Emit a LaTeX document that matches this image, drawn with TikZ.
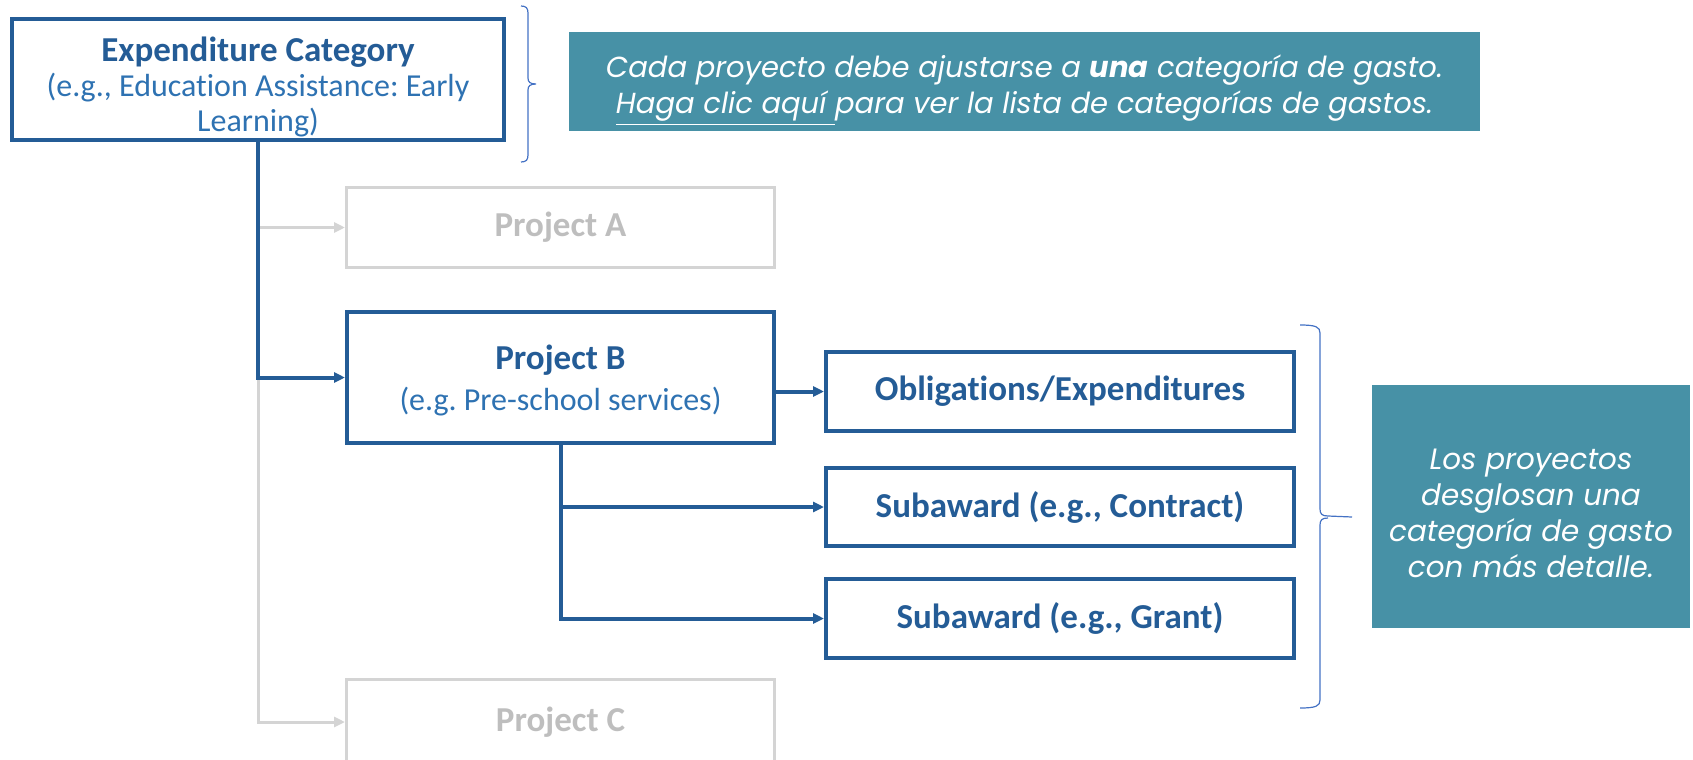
\documentclass[tikz,border=0pt]{standalone}
\usepackage{fontspec}
\setmainfont{Carlito}[Ligatures=NoCommon]
\newfontfamily\gothic{Poppins}
\usepackage{tikz}
\usetikzlibrary{positioning,arrows.meta}
\usepackage{xcolor}
\definecolor{boxblue}{RGB}{36,92,150}
\definecolor{subblue}{RGB}{46,114,178}
\definecolor{fadegray}{RGB}{212,212,212}
\definecolor{fadetext}{RGB}{190,190,190}
\definecolor{tealbox}{RGB}{71,145,166}
\definecolor{bracecol}{RGB}{68,114,196}
\frenchspacing

\begin{document}
\begin{tikzpicture}[x=0.5pt,y=0.5pt,yscale=-1,xscale=1,
  blockbox/.style={draw=boxblue,line width=2pt,fill=white,align=center,text=boxblue,inner sep=0pt,font=\fontsize{16}{17.5}\selectfont},
  fadebox/.style={draw=fadegray,line width=1.5pt,align=center,text=fadetext,inner sep=0pt,font=\fontsize{17.5}{18.5}\selectfont\bfseries},
  notebox/.style={fill=tealbox,text=white,align=center,inner sep=0pt},
  link/.style={draw=boxblue,line width=2pt,-{Triangle[length=5.5pt,width=5pt]}},
  fadelink/.style={draw=fadegray,line width=1.5pt,-{Triangle[length=5.5pt,width=5pt]}},
  brace/.style={draw=bracecol,line width=0.6pt}]
\path[use as bounding box,clip] (0,0) rectangle (1693,760);

% Text Node
\node[blockbox,minimum width=246pt,minimum height=60.5pt] (expcat) at (258,79.5) {\rule{0pt}{20pt}{\fontsize{17.5}{17.5}\selectfont\bfseries Expenditure Category}\\{\color{subblue}(e.g., Education Assistance: Early}\\{\color{subblue}Learning)}};
% Text Node
\node[fadebox,minimum width=214pt,minimum height=40pt] (proja) at (560.5,227.5) {Project A};
% Text Node
\node[blockbox,minimum width=213.5pt,minimum height=65.5pt] (projb) at (560.5,377.5) {\rule{0pt}{15pt}{\fontsize{17.5}{17.5}\selectfont\bfseries Project B}\\[3pt]{\color{subblue}(e.g. Pre-school services)}};
% Text Node
\node[fadebox,minimum width=214pt,minimum height=42.5pt] (projc) at (560.5,722) {Project C};
% Text Node
\node[blockbox,minimum width=234pt,minimum height=39.5pt,font=\fontsize{17.5}{18.5}\selectfont\bfseries] (oblig) at (1060,391.5) {Obligations/Expenditures};
% Text Node
\node[blockbox,minimum width=234pt,minimum height=39pt,font=\fontsize{17.5}{18.5}\selectfont\bfseries] (contract) at (1060,507) {Subaward (e.g., Contract)};
% Text Node
\node[blockbox,minimum width=234pt,minimum height=39.5pt,font=\fontsize{17.5}{18.5}\selectfont\bfseries] (grant) at (1060,618.5) {Subaward (e.g., Grant)};

% Text Node
\node[notebox,minimum width=455.5pt,minimum height=49.5pt,font=\gothic\itshape\fontsize{14.5}{18}\selectfont] (catnote) at (1024.5,81.5) {\rule{0pt}{20pt}Cada proyecto debe ajustarse a \textbf{una} categoría de gasto.\\\underline{Haga clic aquí }para ver la lista de categorías de gastos.};
% Text Node
\node[notebox,minimum width=159pt,minimum height=121.5pt,font=\gothic\itshape\fontsize{14.7}{18}\selectfont] (projnote) at (1531,506.5) {\rule{0pt}{17pt}Los proyectos\\desglosan una\\categoría de gasto\\con más detalle.};

%Straight Lines
\draw[fadelink] (expcat.south |- proja.west) -- (proja.west);
\draw[fadelink] (expcat.south |- projb.west) |- (projc.west);
\draw[link] (expcat.south) |- (projb.west);
\draw[link] (projb.east |- oblig.west) -- (oblig.west);
\draw[link] (projb.south) |- (contract.west);
\draw[link] (projb.south) |- (grant.west);

%Curve Lines
\draw[brace] (521,6) .. controls (526,6) and (528,8) .. (528,13) -- (528,78) .. controls (528,82) and (530,84) .. (536,84) .. controls (530,84) and (528,86) .. (528,90) -- (528,155) .. controls (528,160) and (526,162) .. (521,162);
%Curve Lines
\draw[brace] (1300,325) .. controls (1316,325) and (1320,327) .. (1320,333) -- (1320,509) .. controls (1320,514) and (1322,516) .. (1328,516) -- (1352,517);
\draw[brace] (1328,518) .. controls (1322,518) and (1320,520) .. (1320,525) -- (1320,700) .. controls (1320,706) and (1316,708) .. (1300,708);
\end{tikzpicture}
\end{document}
